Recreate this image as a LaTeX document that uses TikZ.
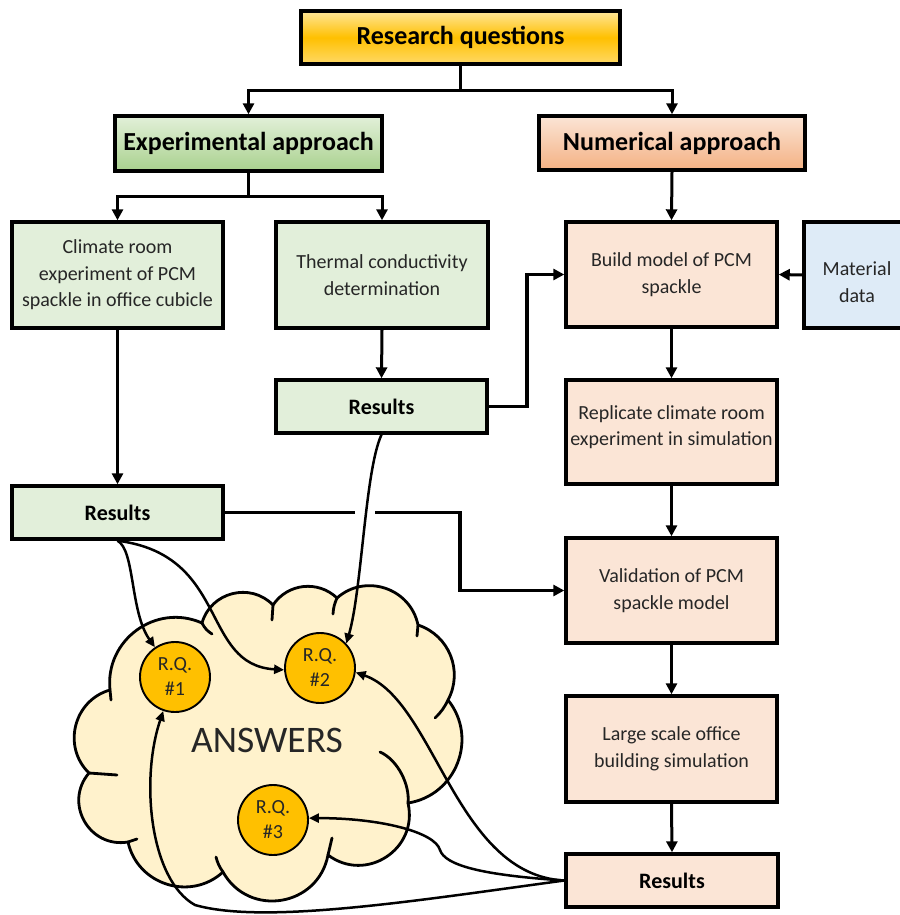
\documentclass[tikz,border=0pt]{standalone}
\usepackage{fontspec}
\setmainfont{Carlito}
\usetikzlibrary{arrows.meta,calc}
\definecolor{rqmid}{HTML}{FFC000}
\definecolor{rqtop}{HTML}{FFE699}
\definecolor{rqbot}{HTML}{FFD966}
\definecolor{gtop}{HTML}{E2F0D9}
\definecolor{gbot}{HTML}{A9D18E}
\definecolor{ptop}{HTML}{FBE5D6}
\definecolor{pbot}{HTML}{F4B183}
\definecolor{gfill}{HTML}{E2EFDA}
\definecolor{pfill}{HTML}{FBE5D6}
\definecolor{bfill}{HTML}{DEEBF7}
\definecolor{cloudfill}{HTML}{FFF2CC}
\definecolor{txt}{HTML}{262626}
\begin{document}
\begin{tikzpicture}[x=1pt,y=-1pt,
  boxbase/.style={draw=black, line width=3.4pt, align=center, inner sep=2pt, text=txt},
  body/.style={boxbase, font=\fontsize{20}{26.5}\selectfont},
  bodytext/.style={align=center, text=txt, font=\fontsize{20}{26.5}\selectfont, inner sep=0pt},
  head/.style={boxbase, text=black, font=\fontsize{26}{30}\selectfont\bfseries},
  resbox/.style={boxbase, text=black, font=\fontsize{22}{26}\selectfont\bfseries, minimum width=211pt, minimum height=53pt},
  conn/.style={line width=3pt},
  arr/.style={conn, -{Triangle[length=11pt,width=11pt]}},
  carr/.style={line width=2.5pt, -{Triangle[length=10pt,width=9pt]}},
  rqc/.style={circle, draw=black, line width=1.9pt, fill=rqmid, minimum size=70pt, inner sep=0pt, align=center, text=txt, font=\fontsize{20}{25}\selectfont},
  puffa/.style={bend left=50, looseness=1.04},
  puffb/.style={bend left=60, looseness=1.13},
  puffc/.style={bend left=70, looseness=1.27},
  puffd/.style={bend left=80, looseness=1.45},
  cloudline/.style={line width=2.8pt, line cap=round}
]
\useasboundingbox (0,0) rectangle (899,915);

% top row
\node[head, top color=rqtop, bottom color=rqbot, middle color=rqmid, minimum width=319pt, minimum height=53pt] (rq) at (460.5,37.5) {Research questions};
\node[head, top color=gtop, bottom color=gbot, minimum width=267pt, minimum height=55pt] (exp) at (248.5,143.5) {Experimental approach};
\node[head, top color=ptop, bottom color=pbot, minimum width=266pt, minimum height=54pt] (num) at (672,143) {Numerical approach};

% experimental column
\node[body, fill=gfill, minimum width=211pt, minimum height=106pt] (climate) at (117.5,275) {Climate room\\experiment of PCM\\spackle in office cubicle};
\node[body, fill=gfill, minimum width=212pt, minimum height=106pt] (thermal) at (382,275) {Thermal conductivity\\determination};
\node[resbox, fill=gfill] (resT) at (381.5,406.5) {Results};
\node[resbox, fill=gfill] (resL) at (117.5,512.5) {Results};

% numerical column
\node[body, fill=pfill, minimum width=211pt, minimum height=105pt] (build) at (671.5,274.5) {Build model of PCM\\spackle};
\node[body, fill=bfill, minimum width=106pt, minimum height=106pt] (material) at (857,275) {};
\node[bodytext] (materialtext) at (857,282) {Material\\data};
\node[body, fill=pfill, minimum width=211pt, minimum height=104pt] (replicate) at (671.5,432) {};
\node[bodytext] (replicatetext) at (671.5,427) {Replicate climate room\\experiment in simulation};
\node[body, fill=pfill, minimum width=211pt, minimum height=105pt] (validation) at (671.5,590.5) {Validation of PCM\\spackle model};
\node[body, fill=pfill, minimum width=211pt, minimum height=106pt] (large) at (671.5,749) {Large scale office\\building simulation};
\node[resbox, fill=pfill, minimum width=212pt] (resR) at (672,880.5) {Results};

% main connectors
\draw[conn] (rq.south) -- ++(0,25) coordinate (rqj);
\draw[arr] (rqj) -| (exp.north);
\draw[arr] (rqj) -| (num.north);
\draw[conn] (exp.south) -- ++(0,24) coordinate (expj);
\draw[arr] (expj) -| (climate.north);
\draw[arr] (expj) -| (thermal.north);
\draw[arr] (climate.south) -- (resL.north);
\draw[arr] (thermal.south) -- (resT.north);
\draw[arr, line width=3.8pt] (resT.east) -- ++(38,0) |- (build.west);
\draw[arr] (material.west) -- (build.east);
\draw[arr] (num.south) -- (build.north);
\draw[arr] (build.south) -- (replicate.north);
\draw[arr] (replicate.south) -- (validation.north);
\draw[arr] (validation.south) -- (large.north);
\draw[arr] (large.south) -- (resR.north);
\coordinate (gapa) at (355,512.5);
\coordinate (gapb) at (375,512.5);
\coordinate (vbend) at (460,512.5);
\draw[conn, line width=3.4pt] (resL.east) -- (gapa);
\draw[arr, line width=3.4pt] (gapb) -- (vbend) |- (validation.west);

% cloud
\coordinate (n1) at (89,773);
\coordinate (n2) at (110,690);
\coordinate (n3) at (202,623);
\coordinate (n4) at (273,605);
\coordinate (n5) at (337,598);
\coordinate (n6) at (418,625);
\coordinate (n7) at (448,700);
\coordinate (n8) at (408,803);
\coordinate (n9) at (328,855);
\coordinate (n10) at (223,872);
\coordinate (n11) at (128,842);
\draw[cloudline, fill=cloudfill, line join=round]
  (n1) to[puffb] (n2) to[puffb] (n3) to[puffb] (n4) to[puffa] (n5) to[puffb] (n6)
  to[puffa] (n7) to[puffb] (n8) to[puffc] (n9) to[puffc] (n10) to[puffb] (n11)
  to[puffc] (n1) -- cycle;
\draw[cloudline] (n3) to[bend right=15] (212,634);
\draw[cloudline] (n4) -- (272,620);
\draw[cloudline] (n5) to[bend right=10] (333,614);
\draw[cloudline] (n6) -- (417,636);
\draw[cloudline] (n7) to[bend left=10] (435,718);
\draw[cloudline] (380,752) .. controls (398,760) and (410,785) .. (n8);
\draw[cloudline] (n9) -- (332,838);
\draw[cloudline] (n10) to[bend left=10] (216,857);
\draw[cloudline] (n11) -- (137,839);
\draw[cloudline] (n1) -- (117,775);
\draw[cloudline] (n2) -- (111,700);

\node[font=\fontsize{37.5}{42}\selectfont, text=txt] (answers) at (267,740) {ANSWERS};
\node[rqc] (rq1) at (175,677) {R.Q.\\\#1};
\node[rqc] (rq2) at (320,668) {R.Q.\\\#2};
\node[rqc] (rq3) at (273,820) {R.Q.\\\#3};

% answer connectors
\draw[carr] (resL.south) .. controls (135,550) and (130,612) .. (rq1.124);
\draw[carr] (resL.south) .. controls (230,555) and (200,665) .. (rq2.183);
\draw[carr] (resT.south) .. controls (365,470) and (362,590) .. (rq2.43);
\draw[carr] (resR.west) .. controls (455,875) and (435,700) .. (rq2.-7);
\draw[carr] (resR.west) .. controls (480,875) and (445,865) .. (440,850) .. controls (435,832) and (380,818) .. (rq3.3);
\draw[carr] (resR.west) .. controls (420,900) and (265,925) .. (195,905) .. controls (150,880) and (140,780) .. (rq1.-109);
\end{tikzpicture}
\end{document}
